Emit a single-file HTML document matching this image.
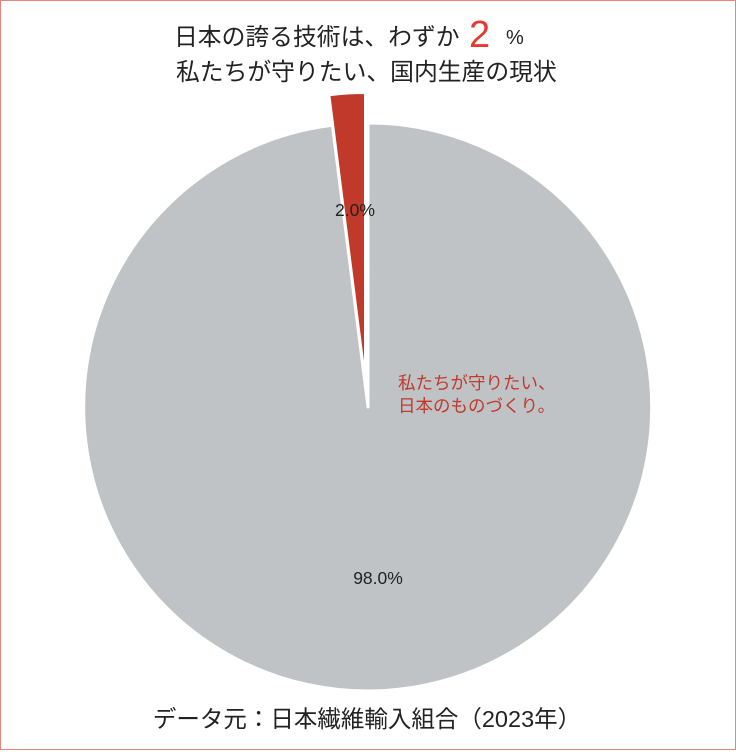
<!DOCTYPE html>
<html><head><meta charset="utf-8"><style>
body{margin:0;width:736px;height:750px;overflow:hidden;background:#fff}
.f{font-family:"Liberation Sans","Noto Sans CJK JP",sans-serif}
</style></head><body>
<svg width="736" height="750" xmlns="http://www.w3.org/2000/svg" class="f">
<rect x="0.5" y="0.5" width="735" height="749" fill="#fff" stroke="#e8857a" stroke-width="1"/>
<path d="M368,407 L368,123 A284,284 0 1,1 332.4,125.2 Z" fill="#bfc3c6" stroke="#fff" stroke-width="3" stroke-linejoin="round"/>
<path d="M365,377 L329.4,95.2 A284,284 0 0,1 365,93 Z" fill="#c0392b" stroke="#fff" stroke-width="2"/>
<g font-family="Liberation Sans, Noto Sans CJK JP, sans-serif" fill="#222">
<text x="174" y="45" font-size="23.8">日本の誇る技術は、わずか</text>
<text x="469" y="47" font-size="38" fill="#e53b2f">2</text>
<text x="506" y="44" font-size="20">%</text>
<text x="176" y="80" font-size="23.8">私たちが守りたい、国内生産の現状</text>
<text x="355" y="216" font-size="17.5" text-anchor="middle">2.0%</text>
<text x="378" y="584" font-size="17.5" text-anchor="middle">98.0%</text>
<text x="398" y="389" font-size="17.5" fill="#c0392b">私たちが守りたい、</text>
<text x="398" y="412" font-size="17.5" fill="#c0392b">日本のものづくり。</text>
<text x="367" y="727" font-size="23.5" text-anchor="middle">データ元：日本繊維輸入組合（2023年）</text>
</g>
</svg>
</body></html>
